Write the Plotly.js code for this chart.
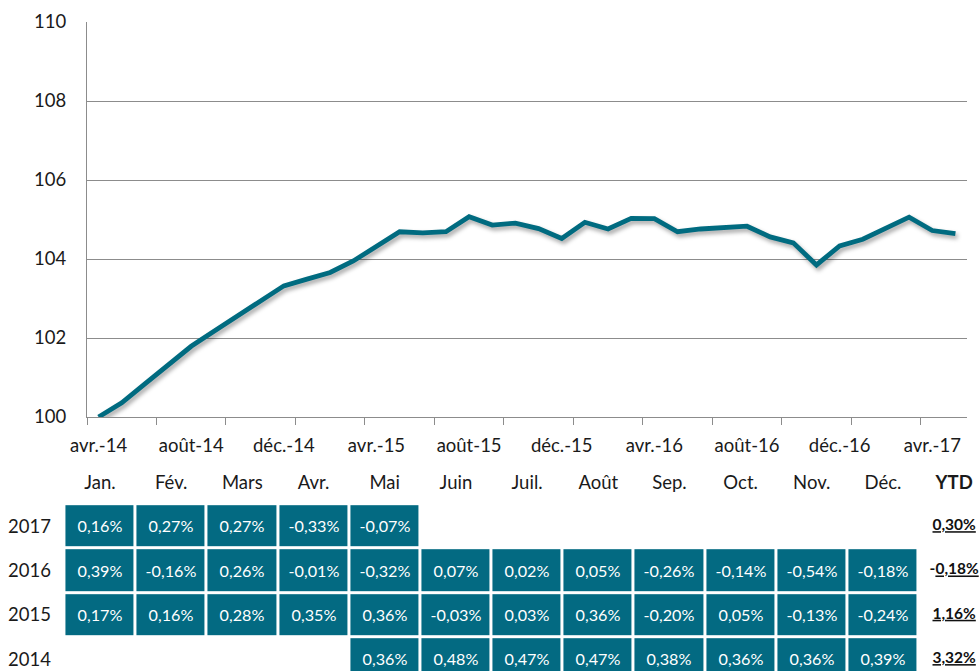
<!DOCTYPE html>
<html>
<head>
<meta charset="utf-8">
<script src="https://cdn.plot.ly/plotly-3.0.1.min.js"></script>
<style>
  html, body { margin: 0; padding: 0; background: #fff; }
  #chart { width: 979px; height: 671px; }
</style>
</head>
<body>
<div id="chart"></div>
<script>
// ---- Data ----
const periods = [
  "avr.-14","mai-14","juin-14","juil.-14","août-14","sept.-14","oct.-14","nov.-14","déc.-14",
  "janv.-15","févr.-15","mars-15","avr.-15","mai-15","juin-15","juil.-15","août-15","sept.-15","oct.-15","nov.-15","déc.-15",
  "janv.-16","févr.-16","mars-16","avr.-16","mai-16","juin-16","juil.-16","août-16","sept.-16","oct.-16","nov.-16","déc.-16",
  "janv.-17","févr.-17","mars-17","avr.-17","mai-17"
];
const indexValues = [
  100.00, 100.36, 100.84, 101.32, 101.79, 102.18, 102.55, 102.92, 103.32,
  103.49, 103.66, 103.95, 104.31, 104.69, 104.66, 104.69, 105.07, 104.86, 104.91, 104.77, 104.52,
  104.93, 104.76, 105.03, 105.02, 104.69, 104.76, 104.78, 104.83, 104.56, 104.41, 103.85, 104.33,
  104.50, 104.78, 105.06, 104.72, 104.64
];
const yTicks = [100, 102, 104, 106, 108, 110];

const monthHeaders = ["Jan.","Fév.","Mars","Avr.","Mai","Juin","Juil.","Août","Sep.","Oct.","Nov.","Déc."];
const ytdHeader = "YTD";
const years = ["2017","2016","2015","2014"];
const returns2017 = [0.16, 0.27, 0.27, -0.33, -0.07, null, null, null, null, null, null, null];
const returns2016 = [0.39, -0.16, 0.26, -0.01, -0.32, 0.07, 0.02, 0.05, -0.26, -0.14, -0.54, -0.18];
const returns2015 = [0.17, 0.16, 0.28, 0.35, 0.36, -0.03, 0.03, 0.36, -0.20, 0.05, -0.13, -0.24];
const returns2014 = [null, null, null, null, 0.36, 0.48, 0.47, 0.47, 0.38, 0.36, 0.36, 0.39];
const ytd = [0.30, -0.18, 1.16, 3.32];

// ---- Helpers ----
const fmt = v => (v === null ? "" : v.toFixed(2).replace(".", ",") + "%");
const fmtYtd = v => (v < 0 ? "-" : "") + "<u>" + Math.abs(v).toFixed(2).replace(".", ",") + "%</u>";

const W = 979, H = 671;
const px = p => p / W;
const py = p => 1 - p / H;

const xIdx = periods.map((_, i) => i);
const tickIdx = xIdx.filter(i => i % 4 === 0);

const zRows = [returns2017, returns2016, returns2015, returns2014];
const textRows = zRows.map(r => r.map(fmt));
const colIdx = monthHeaders.map((_, i) => i);
const rowIdx = years.map((_, i) => i);

const teal = "#036a82";
const font = "Lato, 'Noto Sans', sans-serif";

const traces = [
  {
    type: "scatter", mode: "lines",
    x: xIdx, y: indexValues,
    line: { color: "#006b80", width: 4.8 },
    cliponaxis: false, hoverinfo: "skip",
    xaxis: "x", yaxis: "y"
  },
  {
    type: "heatmap",
    x: colIdx, y: rowIdx, z: zRows,
    text: textRows, texttemplate: "%{text}",
    textfont: { color: "#ffffff", size: 16.2, family: font },
    colorscale: [[0, teal], [1, teal]],
    showscale: false, xgap: 3, ygap: 3, hoverinfo: "skip",
    xaxis: "x2", yaxis: "y2"
  },
  {
    type: "scatter", mode: "text",
    x: rowIdx.map(() => monthHeaders.length), y: rowIdx,
    text: ytd.map(fmtYtd),
    textfont: { color: "#111111", size: 15.5, family: font, weight: "bold" },
    textposition: "middle center",
    cliponaxis: false, hoverinfo: "skip",
    xaxis: "x2", yaxis: "y2"
  }
];

const layout = {
  width: W, height: H,
  margin: { l: 0, r: 0, t: 0, b: 0 },
  paper_bgcolor: "#ffffff", plot_bgcolor: "#ffffff",
  showlegend: false,
  font: { family: font, size: 18.5, color: "#1a1a1a" },
  xaxis: {
    domain: [px(87), px(967)],
    range: [-0.5, periods.length - 0.5],
    tickmode: "array", tickvals: tickIdx, ticktext: tickIdx.map(i => periods[i]),
    ticks: "", showgrid: false, zeroline: false,
    showline: true, linecolor: "#8c8c8c", linewidth: 1,
    ticklabelstandoff: 12,
    minor: { tick0: -0.5, dtick: 3, ticks: "outside", ticklen: 7, tickcolor: "#8c8c8c", tickwidth: 1, showgrid: false },
    anchor: "y", fixedrange: true
  },
  yaxis: {
    domain: [py(417), py(22)],
    range: [100, 110],
    tickmode: "array", tickvals: yTicks, ticktext: yTicks.map(String),
    ticks: "", showgrid: true, gridcolor: "#8c8c8c", gridwidth: 1,
    zeroline: false, showline: true, linecolor: "#8c8c8c", linewidth: 1,
    ticklabelstandoff: 16,
    anchor: "x", fixedrange: true
  },
  xaxis2: {
    domain: [px(58), 1],
    range: [(58 - 100) / 71.18, (979 - 100) / 71.18],
    side: "top",
    tickmode: "array",
    tickvals: colIdx.concat([monthHeaders.length]),
    ticktext: monthHeaders.concat(["<b>" + ytdHeader + "</b>"]),
    ticks: "", showgrid: false, zeroline: false, showline: false,
    ticklabelstandoff: 6,
    anchor: "y2", fixedrange: true
  },
  yaxis2: {
    domain: [0, py(500)],
    range: [(671 - 526.3) / 44.3, (500 - 526.3) / 44.3],
    tickmode: "array", tickvals: rowIdx, ticktext: years,
    ticks: "", showgrid: false, zeroline: false, showline: false,
    ticklabelstandoff: 6,
    anchor: "x2", fixedrange: true
  }
};

Plotly.newPlot("chart", traces, layout, { staticPlot: true, displayModeBar: false }).then(() => {
  const line = document.querySelector("#chart .scatterlayer .trace .js-line");
  if (line) line.style.filter = "drop-shadow(2px 3px 2px rgba(0,0,0,0.35))";
});
</script>
</body>
</html>
